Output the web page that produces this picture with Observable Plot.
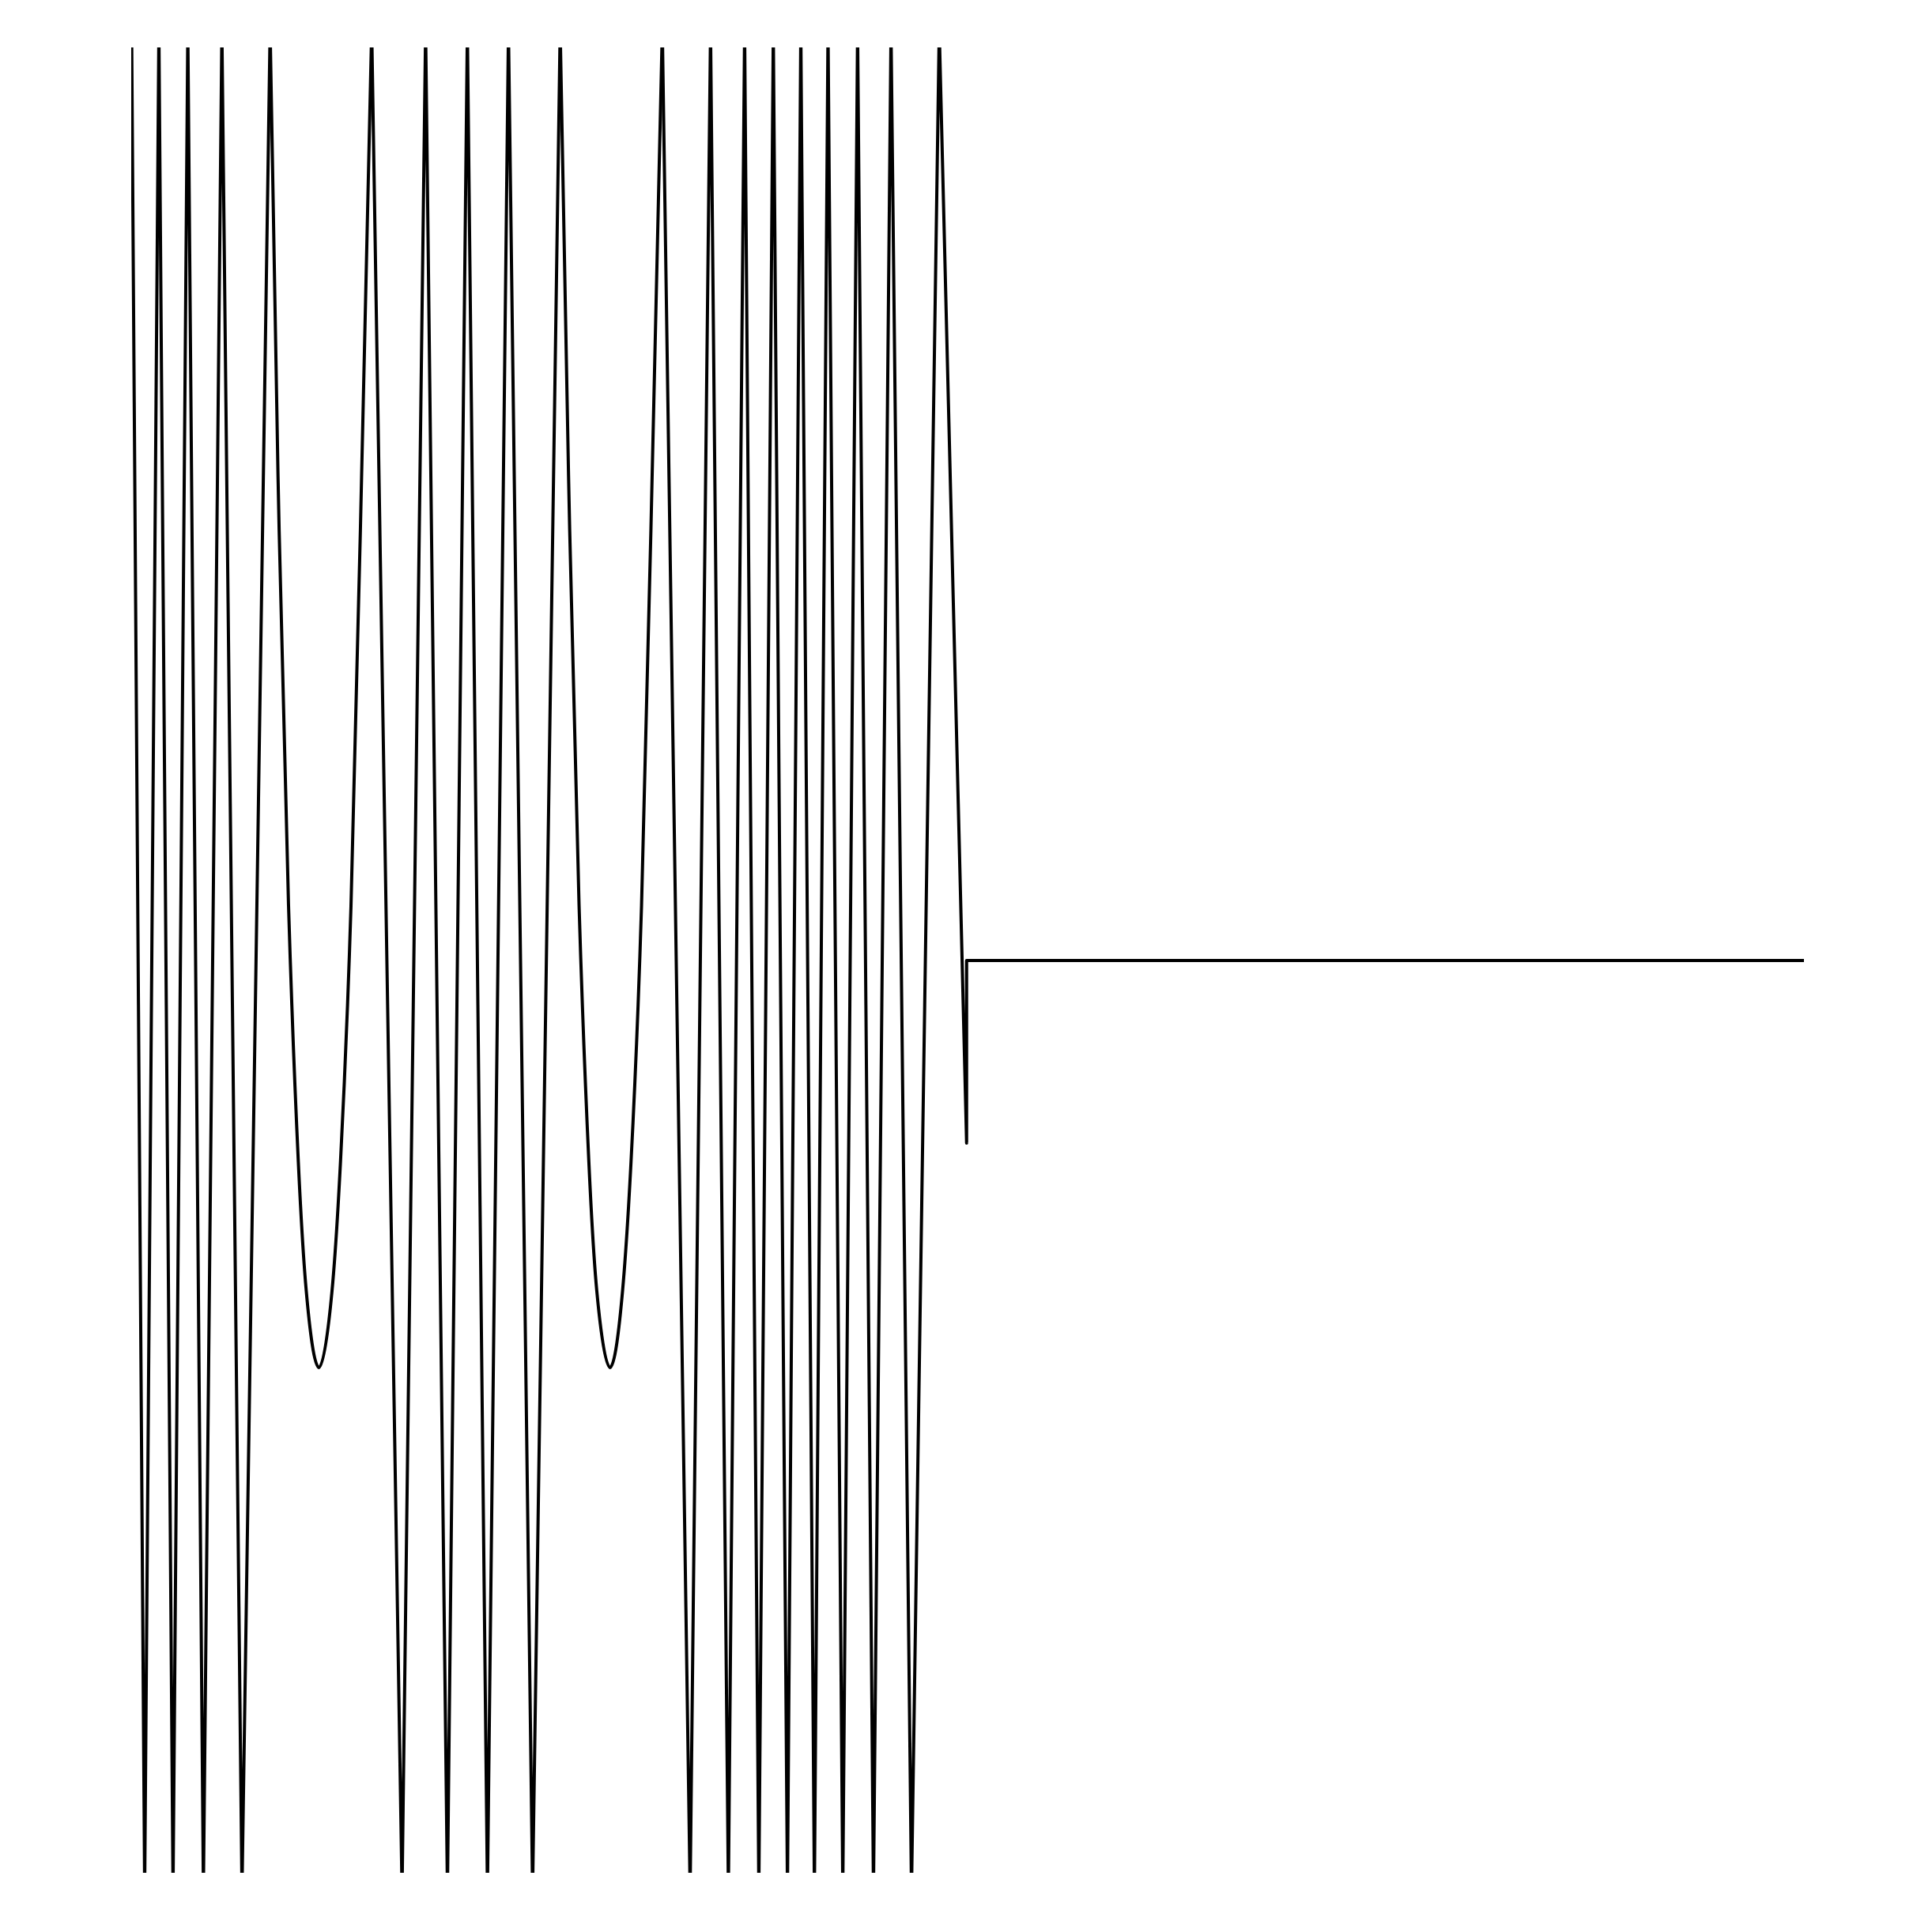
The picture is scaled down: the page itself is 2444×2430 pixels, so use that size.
<!DOCTYPE html>
<html>
<head>
<meta charset="utf-8">
<script src="https://cdn.jsdelivr.net/npm/d3@7"></script>
<script src="https://cdn.jsdelivr.net/npm/@observablehq/plot@0.6"></script>
<style>
  html, body { margin: 0; padding: 0; background: #fff; }
</style>
</head>
<body>
<div id="chart"></div>
<script>
// Zig-zag segment before the first rounded dip (x in 0–100 units, y in -1..1)
const xA = [0, 0.78, 1.63, 2.476, 3.36, 4.291, 5.397, 6.598, 8.28];
const yA = [1.02, -1.02, 1.02, -1.02, 1.02, -1.02, 1.02, -1.02, 1.02];

// First rounded dip
const xDip1 = [8.28, 8.753, 9.381, 9.967, 10.44, 11.196, 11.981, 12.486, 13.115, 13.748, 14.353];
const yDip1 = [1.02, 0.53, 0.06, -0.221, -0.362, -0.446, -0.362, -0.221, 0.06, 0.53, 1.02];

// Zig-zag segment between the dips
const xB = [14.353, 16.168, 17.576, 18.881, 20.072, 21.272, 22.529, 23.971, 25.62];
const yB = [1.02, -1.02, 1.02, -1.02, 1.02, -1.02, 1.02, -1.02, 1.02];

// Second rounded dip
const xDip2 = [25.62, 26.122, 26.75, 27.336, 27.809, 28.6, 29.35, 29.855, 30.484, 31.117, 31.727];
const yDip2 = [1.02, 0.53, 0.06, -0.221, -0.362, -0.446, -0.362, -0.221, 0.06, 0.53, 1.02];

// Final zig-zag, the drop, the jump and the flat tail
const xC = [31.727, 33.39, 34.61, 35.677, 36.647, 37.497, 38.362, 39.208, 40.007, 40.819,
            41.633, 42.516, 43.4, 44.35, 45.399, 46.623, 48.282, 49.918, 49.918, 100];
const yC = [1.02, -1.02, 1.02, -1.02, 1.02, -1.02, 1.02, -1.02, 1.02, -1.02,
            1.02, -1.02, 1.02, -1.02, 1.02, -1.02, 1.02, -0.2, 0, 0];

const seg = (xs, ys) => xs.map((x, i) => ({x, y: ys[i]}));

const common = {x: "x", y: "y", stroke: "black", strokeWidth: 4, clip: true};

const chart = Plot.plot({
  width: 2444,
  height: 2430,
  marginTop: 60,
  marginBottom: 61,
  marginLeft: 166,
  marginRight: 162,
  x: {domain: [0, 100], axis: null},
  y: {domain: [-1, 1], axis: null},
  marks: [
    Plot.line(seg(xA, yA), {...common}),
    Plot.line(seg(xDip1, yDip1), {...common, curve: "natural"}),
    Plot.line(seg(xB, yB), {...common}),
    Plot.line(seg(xDip2, yDip2), {...common, curve: "natural"}),
    Plot.line(seg(xC, yC), {...common})
  ]
});
document.getElementById("chart").appendChild(chart);
</script>
</body>
</html>
